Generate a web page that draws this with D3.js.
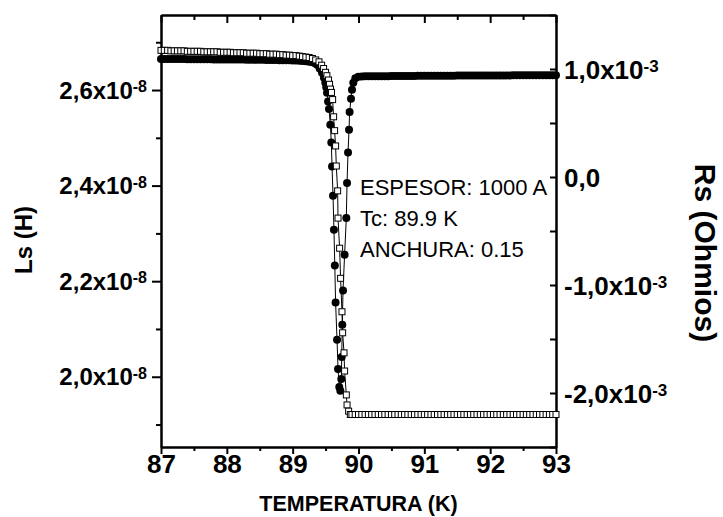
<!DOCTYPE html>
<html>
<head>
<meta charset="utf-8">
<script src="https://cdn.jsdelivr.net/npm/d3@7"></script>
<style>
  body { margin: 0; background: #fff; }
  svg { display: block; font-family: "Liberation Sans", Arial, sans-serif; }
</style>
</head>
<body>
<div id="chart"></div>
<script>
// Ls in units of 1e-8 H (open squares, left axis)
const lsPoints = [
  [87.00,2.683],[87.05,2.683],[87.10,2.683],[87.15,2.682],[87.20,2.682],[87.25,2.682],[87.30,2.682],[87.35,2.682],[87.40,2.681],[87.45,2.681],
  [87.50,2.681],[87.55,2.681],[87.60,2.681],[87.65,2.680],[87.70,2.680],[87.75,2.680],[87.80,2.680],[87.85,2.680],[87.90,2.679],[87.95,2.679],
  [88.00,2.679],[88.05,2.679],[88.10,2.678],[88.15,2.678],[88.20,2.678],[88.25,2.678],[88.30,2.677],[88.35,2.677],[88.40,2.677],[88.45,2.677],
  [88.50,2.676],[88.55,2.676],[88.60,2.676],[88.65,2.675],[88.70,2.675],[88.75,2.675],[88.80,2.674],[88.85,2.674],[88.90,2.673],[88.95,2.673],
  [89.00,2.672],[89.05,2.672],[89.10,2.671],[89.15,2.670],[89.20,2.669],[89.25,2.668],
  [89.30,2.666],[89.35,2.663],[89.40,2.659],[89.44,2.652],[89.47,2.645],[89.50,2.637],[89.52,2.630],[89.545,2.621],[89.56,2.612],[89.575,2.602],
  [89.59,2.595],[89.607,2.580],[89.622,2.544],[89.637,2.515],[89.652,2.483],[89.663,2.441],[89.683,2.389],[89.689,2.332],[89.713,2.269],[89.728,2.206],
  [89.749,2.136],[89.759,2.092],[89.780,2.050],[89.789,2.012],[89.815,1.962],[89.826,1.941],[89.850,1.928],[89.876,1.921],
  [89.90,1.921],[89.95,1.921],[90.00,1.921],[90.05,1.921],[90.10,1.921],[90.15,1.921],[90.20,1.921],[90.25,1.921],[90.30,1.921],[90.35,1.921],
  [90.40,1.921],[90.45,1.921],[90.50,1.921],[90.55,1.921],[90.60,1.921],[90.65,1.921],[90.70,1.921],[90.75,1.921],[90.80,1.921],[90.85,1.921],
  [90.90,1.921],[90.95,1.921],[91.00,1.921],[91.05,1.921],[91.10,1.921],[91.15,1.921],[91.20,1.921],[91.25,1.921],[91.30,1.921],[91.35,1.921],
  [91.40,1.921],[91.45,1.921],[91.50,1.921],[91.55,1.921],[91.60,1.921],[91.65,1.921],[91.70,1.921],[91.75,1.921],[91.80,1.921],[91.85,1.921],
  [91.90,1.921],[91.95,1.921],[92.00,1.921],[92.05,1.921],[92.10,1.921],[92.15,1.921],[92.20,1.921],[92.25,1.921],[92.30,1.921],[92.35,1.921],
  [92.40,1.921],[92.45,1.921],[92.50,1.921],[92.55,1.921],[92.60,1.921],[92.65,1.921],[92.70,1.921],[92.75,1.921],[92.80,1.921],[92.85,1.921],
  [92.90,1.921],[92.95,1.921],[93.00,1.921]
];

// Rs in units of 1e-3 Ohm (filled circles, right axis)
const rsPoints = [
  [87.00,1.093],[87.05,1.093],[87.10,1.093],[87.15,1.093],[87.20,1.092],[87.25,1.092],[87.30,1.092],[87.35,1.092],[87.40,1.091],[87.45,1.091],
  [87.50,1.091],[87.55,1.091],[87.60,1.090],[87.65,1.090],[87.70,1.090],[87.75,1.090],[87.80,1.089],[87.85,1.089],[87.90,1.089],[87.95,1.089],
  [88.00,1.088],[88.05,1.088],[88.10,1.088],[88.15,1.087],[88.20,1.087],[88.25,1.087],[88.30,1.086],[88.35,1.086],[88.40,1.086],[88.45,1.085],
  [88.50,1.085],[88.55,1.085],[88.60,1.084],[88.65,1.084],[88.70,1.083],[88.75,1.083],[88.80,1.082],[88.85,1.082],[88.90,1.081],[88.95,1.080],
  [89.00,1.079],[89.05,1.078],[89.10,1.077],[89.15,1.075],[89.20,1.072],[89.25,1.068],
  [89.30,1.062],[89.34,1.053],[89.37,1.040],[89.41,1.005],[89.446,0.966],[89.475,0.920],[89.496,0.873],[89.51,0.830],[89.522,0.781],[89.538,0.700],
  [89.552,0.630],[89.572,0.484],[89.587,0.320],[89.598,0.098],[89.613,-0.173],[89.627,-0.488],[89.640,-0.819],[89.652,-1.161],[89.674,-1.506],[89.689,-1.778],
  [89.708,-1.944],[89.724,-1.979],[89.739,-1.870],[89.745,-1.667],[89.754,-1.368],[89.765,-1.050],[89.789,-0.719],[89.815,-0.380],[89.826,-0.056],[89.841,0.228],
  [89.856,0.438],[89.865,0.602],[89.886,0.725],[89.901,0.808],[89.921,0.873],[89.952,0.915],[89.997,0.929],
  [90.05,0.931],[90.10,0.932],[90.15,0.932],[90.20,0.933],[90.25,0.933],[90.30,0.933],[90.35,0.934],[90.40,0.934],[90.45,0.934],[90.50,0.935],
  [90.55,0.935],[90.60,0.935],[90.65,0.935],[90.70,0.936],[90.75,0.936],[90.80,0.936],[90.85,0.936],[90.90,0.937],[90.95,0.937],[91.00,0.937],
  [91.05,0.937],[91.10,0.937],[91.15,0.938],[91.20,0.938],[91.25,0.938],[91.30,0.938],[91.35,0.938],[91.40,0.938],[91.45,0.938],[91.50,0.939],
  [91.55,0.939],[91.60,0.939],[91.65,0.939],[91.70,0.939],[91.75,0.939],[91.80,0.939],[91.85,0.939],[91.90,0.940],[91.95,0.940],[92.00,0.940],
  [92.05,0.940],[92.10,0.940],[92.15,0.940],[92.20,0.940],[92.25,0.940],[92.30,0.940],[92.35,0.941],[92.40,0.941],[92.45,0.941],[92.50,0.941],
  [92.55,0.941],[92.60,0.941],[92.65,0.941],[92.70,0.941],[92.75,0.941],[92.80,0.942],[92.85,0.942],[92.90,0.942],[92.95,0.942],[93.00,0.942]
];

const tempTicks = [87, 88, 89, 90, 91, 92, 93];
const tempMinor = [87.5, 88.5, 89.5, 90.5, 91.5, 92.5];
const lsTicks = [2.0, 2.2, 2.4, 2.6];
const lsMinor = [1.9, 2.1, 2.3, 2.5, 2.7];
const rsTicks = [-2, -1, 0, 1];
const rsMinor = [-2.5, -1.5, -0.5, 0.5, 1.5];
const notes = ["ESPESOR: 1000 A", "Tc: 89.9 K", "ANCHURA: 0.15"];

const width = 723, height = 517;
const margin = { top: 15, right: 167, bottom: 70, left: 161 };
const plotW = width - margin.left - margin.right;
const plotH = height - margin.top - margin.bottom;

const svg = d3.select("#chart").append("svg")
  .attr("width", width).attr("height", height)
  .attr("viewBox", `0 0 ${width} ${height}`);

const x = d3.scaleLinear().domain([87, 93]).range([margin.left, margin.left + plotW]);
const yL = d3.scaleLinear().domain([1.853, 2.757]).range([margin.top + plotH, margin.top]);
const yR = d3.scaleLinear().domain([-2.5, 1.5]).range([margin.top + plotH, margin.top]);

// axes
function styleAxis(g) {
  g.select(".domain").attr("stroke", "#000").attr("stroke-width", 2);
  g.selectAll(".tick line").attr("stroke", "#000").attr("stroke-width", 2);
}

const bottom = svg.append("g").attr("transform", `translate(0,${margin.top + plotH})`);
bottom.call(d3.axisBottom(x).tickValues(tempTicks).tickSize(7).tickSizeOuter(0).tickPadding(1).tickFormat(d3.format("d")))
  .call(styleAxis);
bottom.selectAll(".tick text")
  .attr("font-family", "'Liberation Sans', Arial, sans-serif")
  .attr("font-size", 26).attr("font-weight", "bold").attr("fill", "#000");
svg.append("g").attr("transform", `translate(0,${margin.top + plotH})`)
  .call(d3.axisBottom(x).tickValues(tempMinor).tickSize(4).tickSizeOuter(0).tickFormat(""))
  .call(styleAxis);

svg.append("g").attr("transform", `translate(0,${margin.top})`)
  .call(d3.axisTop(x).tickValues(tempTicks).tickSize(-8).tickSizeOuter(0).tickFormat(""))
  .call(styleAxis);
svg.append("g").attr("transform", `translate(0,${margin.top})`)
  .call(d3.axisTop(x).tickValues(tempMinor).tickSize(-5).tickSizeOuter(0).tickFormat(""))
  .call(styleAxis);

svg.append("g").attr("transform", `translate(${margin.left},0)`)
  .call(d3.axisLeft(yL).tickValues(lsTicks).tickSize(9).tickSizeOuter(0).tickFormat(""))
  .call(styleAxis);
svg.append("g").attr("transform", `translate(${margin.left},0)`)
  .call(d3.axisLeft(yL).tickValues(lsMinor).tickSize(5).tickSizeOuter(0).tickFormat(""))
  .call(styleAxis);

svg.append("g").attr("transform", `translate(${margin.left + plotW},0)`)
  .call(d3.axisRight(yR).tickValues(rsTicks).tickSize(-6).tickSizeOuter(0).tickFormat(""))
  .call(styleAxis);
svg.append("g").attr("transform", `translate(${margin.left + plotW},0)`)
  .call(d3.axisRight(yR).tickValues(rsMinor).tickSize(-6).tickSizeOuter(0).tickFormat(""))
  .call(styleAxis);

// tick labels with superscript exponent
const comma = v => v.toFixed(1).replace(".", ",");

const leftLabels = svg.append("g").attr("font-size", 24).attr("font-weight", "bold").attr("text-anchor", "end");
lsTicks.forEach(v => {
  const t = leftLabels.append("text").attr("x", margin.left - 14).attr("y", yL(v) + 8.5);
  t.append("tspan").text(comma(v) + "x10");
  t.append("tspan").attr("font-size", 16).attr("dy", -6.5).text("-8");
});

const rightLabels = svg.append("g").attr("font-size", 26).attr("font-weight", "bold").attr("text-anchor", "start");
rsTicks.forEach(v => {
  const t = rightLabels.append("text").attr("x", margin.left + plotW + 8).attr("y", yR(v) + 9.5);
  if (v === 0) {
    t.text("0,0");
  } else {
    t.append("tspan").text(comma(v) + "x10");
    t.append("tspan").attr("font-size", 17).attr("dy", -7).text("-3");
  }
});

// axis titles
svg.append("text")
  .attr("x", margin.left + plotW / 2).attr("y", 511)
  .attr("text-anchor", "middle").attr("font-size", 21.5).attr("font-weight", "bold")
  .text("TEMPERATURA (K)");

svg.append("text")
  .attr("transform", `translate(32,${margin.top + 225}) rotate(-90)`)
  .attr("text-anchor", "middle").attr("font-size", 24).attr("font-weight", "bold")
  .text("Ls (H)");

svg.append("text")
  .attr("transform", `translate(695,${margin.top + 238}) rotate(90)`)
  .attr("text-anchor", "middle").attr("font-size", 30).attr("font-weight", "bold")
  .text("Rs (Ohmios)");

// series
const lineRs = d3.line().x(d => x(d[0])).y(d => yR(d[1]));
const lineLs = d3.line().x(d => x(d[0])).y(d => yL(d[1]));

svg.append("path").datum(rsPoints).attr("d", lineRs)
  .attr("fill", "none").attr("stroke", "#000").attr("stroke-width", 1);
svg.append("path").datum(lsPoints).attr("d", lineLs)
  .attr("fill", "none").attr("stroke", "#000").attr("stroke-width", 1);

svg.append("g").selectAll("circle").data(rsPoints).join("circle")
  .attr("cx", d => x(d[0])).attr("cy", d => yR(d[1])).attr("r", 4)
  .attr("fill", "#000");

const sq = 6;
svg.append("g").selectAll("rect").data(lsPoints).join("rect")
  .attr("x", d => x(d[0]) - sq / 2).attr("y", d => yL(d[1]) - sq / 2)
  .attr("width", sq).attr("height", sq)
  .attr("fill", "#fff").attr("stroke", "#000").attr("stroke-width", 1);

// annotation
svg.append("g").attr("font-size", 22).selectAll("text").data(notes).join("text")
  .attr("x", 360).attr("y", (d, i) => 195 + i * 31)
  .text(d => d);
</script>
</body>
</html>
